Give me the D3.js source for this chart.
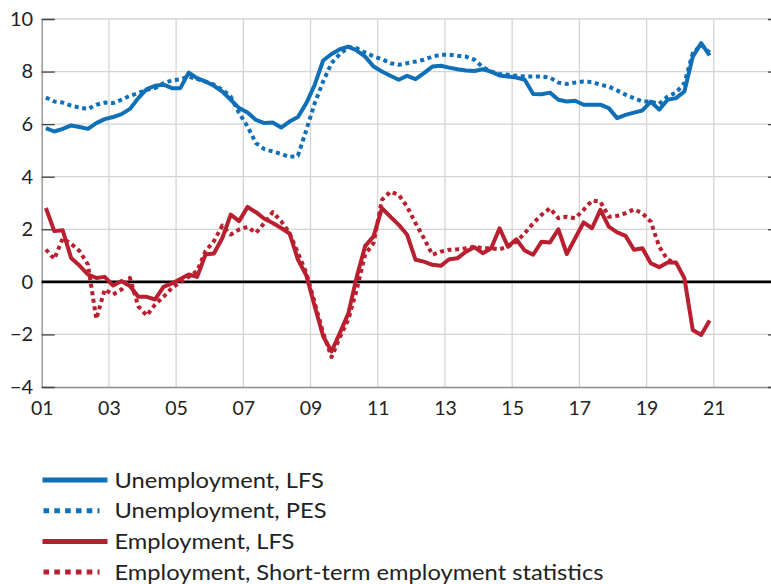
<!DOCTYPE html>
<html>
<head>
<meta charset="utf-8">
<script src="https://cdn.jsdelivr.net/npm/d3@7"></script>
<style>
  html, body { margin: 0; padding: 0; background: #ffffff; }
  svg { display: block; font-family: Lato, "Open Sans", sans-serif; }
</style>
</head>
<body>
<svg id="chart" width="771" height="584"></svg>
<script>
// Quarterly series, 2001Q1 – 2020Q4 (per cent / annual change, per cent)
const firstYear = 2001;
const unempLFS = [
  5.85, 5.72, 5.82, 5.95, 5.89, 5.82, 6.04, 6.19, 6.27, 6.38,
  6.58, 6.99, 7.33, 7.46, 7.50, 7.37, 7.37, 7.96, 7.75, 7.62,
  7.46, 7.24, 6.93, 6.61, 6.44, 6.16, 6.04, 6.06, 5.87, 6.10,
  6.27, 6.80, 7.50, 8.42, 8.67, 8.85, 8.95, 8.80, 8.57, 8.19,
  8.00, 7.84, 7.69, 7.84, 7.71, 7.94, 8.19, 8.22, 8.15, 8.09,
  8.04, 8.02, 8.09, 8.00, 7.85, 7.81, 7.77, 7.69, 7.15, 7.14,
  7.20, 6.93, 6.86, 6.89, 6.74, 6.74, 6.74, 6.61, 6.23, 6.35,
  6.44, 6.52, 6.86, 6.55, 6.93, 6.99, 7.24, 8.57, 9.08, 8.62
];
const unempPES = [
  7.01, 6.86, 6.82, 6.70, 6.63, 6.57, 6.74, 6.82, 6.80, 6.93,
  7.08, 7.18, 7.31, 7.37, 7.56, 7.66, 7.71, 7.81, 7.71, 7.62,
  7.50, 7.31, 7.05, 6.42, 5.91, 5.28, 5.05, 4.96, 4.87, 4.75,
  4.80, 5.78, 6.80, 7.62, 8.32, 8.67, 8.93, 8.89, 8.72, 8.58,
  8.47, 8.32, 8.26, 8.32, 8.38, 8.45, 8.57, 8.64, 8.64, 8.60,
  8.57, 8.45, 8.17, 8.00, 7.91, 7.88, 7.84, 7.81, 7.81, 7.81,
  7.77, 7.58, 7.53, 7.58, 7.62, 7.60, 7.50, 7.43, 7.28, 7.12,
  6.99, 6.86, 6.86, 6.77, 7.05, 7.20, 7.56, 8.70, 9.02, 8.72
];
const empLFS = [
  2.81, 1.93, 1.96, 0.91, 0.62, 0.28, 0.15, 0.19, -0.14, 0.03,
  -0.16, -0.57, -0.57, -0.67, -0.19, -0.06, 0.11, 0.28, 0.19, 1.04,
  1.08, 1.67, 2.56, 2.31, 2.85, 2.65, 2.40, 2.24, 2.05, 1.84,
  0.85, 0.24, -0.93, -2.07, -2.65, -1.94, -1.20, 0.19, 1.36, 1.73,
  2.80, 2.48, 2.17, 1.79, 0.84, 0.77, 0.65, 0.61, 0.86, 0.90,
  1.15, 1.32, 1.09, 1.28, 2.04, 1.34, 1.62, 1.19, 1.03, 1.53,
  1.50, 2.00, 1.06, 1.66, 2.26, 2.04, 2.74, 2.10, 1.88, 1.75,
  1.22, 1.28, 0.71, 0.56, 0.74, 0.74, 0.14, -1.83, -2.02, -1.47
];
const empSTES = [
  1.23, 0.87, 1.65, 1.45, 1.17, 0.66, -1.41, -0.29, -0.48, -0.29,
  0.15, -0.93, -1.28, -0.86, -0.57, -0.23, -0.01, 0.19, 0.41, 1.17,
  1.55, 2.14, 1.80, 1.99, 2.09, 1.86, 2.24, 2.65, 2.31, 1.86,
  1.10, 0.34, -0.80, -1.94, -2.86, -2.10, -1.43, -0.29, 1.04, 1.48,
  3.12, 3.43, 3.31, 2.86, 2.23, 1.66, 1.03, 1.15, 1.22, 1.24,
  1.28, 1.34, 1.28, 1.28, 1.24, 1.34, 1.53, 1.85, 2.23, 2.55,
  2.80, 2.42, 2.48, 2.42, 2.74, 3.09, 3.05, 2.48, 2.51, 2.61,
  2.76, 2.61, 2.29, 1.34, 0.84, 0.71
];
const yTicks = [-4, -2, 0, 2, 4, 6, 8, 10];
const xTickYears = [2001, 2003, 2005, 2007, 2009, 2011, 2013, 2015, 2017, 2019, 2021];
const xTickLabels = ["01", "03", "05", "07", "09", "11", "13", "15", "17", "19", "21"];

const seriesList = [
  { name: "Unemployment, LFS", values: unempLFS, color: "#0f70b7", dashed: false },
  { name: "Unemployment, PES", values: unempPES, color: "#0f70b7", dashed: true },
  { name: "Employment, LFS", values: empLFS, color: "#b91f2e", dashed: false },
  { name: "Employment, Short-term employment statistics", values: empSTES, color: "#b91f2e", dashed: true }
];

const svg = d3.select("#chart");
const plot = { left: 41.7, right: 781, top: 19, bottom: 387 };
const labelFont = "Lato, 'Open Sans', sans-serif";

// Quarter k sits in the middle of its quarter on a continuous year axis
const quarterTime = k => firstYear + (k + 0.5) / 4;

const x = d3.scaleLinear().domain([2001, 2023]).range([plot.left, plot.right]);
const y = d3.scaleLinear().domain([-4, 10]).range([plot.bottom, plot.top]);

const gridColor = "#d4d4d4";
const axisColor = "#8c8c8c";

// Gridlines
svg.append("g")
  .selectAll("line")
  .data(yTicks.filter(v => v !== 0 && v !== -4))
  .join("line")
  .attr("x1", plot.left).attr("x2", plot.right)
  .attr("y1", d => y(d)).attr("y2", d => y(d))
  .attr("stroke", gridColor).attr("stroke-width", 1.3);

svg.append("g")
  .selectAll("line")
  .data(xTickYears.slice(1).concat([2023]))
  .join("line")
  .attr("x1", d => x(d)).attr("x2", d => x(d))
  .attr("y1", plot.top).attr("y2", plot.bottom)
  .attr("stroke", gridColor).attr("stroke-width", 1.3);

// Bottom axis with two-digit year labels
const xAxis = d3.axisBottom(x)
  .tickValues(xTickYears)
  .tickSize(0)
  .tickPadding(14)
  .tickFormat((d, i) => xTickLabels[i]);
const gx = svg.append("g")
  .attr("transform", `translate(0,${plot.bottom})`)
  .call(xAxis);
gx.select(".domain").attr("stroke", axisColor).attr("stroke-width", 1.3);
gx.selectAll("text")
  .attr("fill", "#222").attr("font-size", 19.5)
  .attr("font-family", labelFont);

// Left axis, ticks pointing inward
const yAxis = d3.axisLeft(y)
  .tickValues(yTicks)
  .tickSize(-13)
  .tickPadding(8.5)
  .tickFormat(d3.format("d"));
const gy = svg.append("g")
  .attr("transform", `translate(${plot.left},0)`)
  .call(yAxis);
gy.select(".domain").attr("stroke", axisColor).attr("stroke-width", 1.3);
gy.selectAll(".tick line").attr("stroke", "#444").attr("stroke-width", 1.3);
gy.selectAll("text")
  .attr("fill", "#222").attr("font-size", 20)
  .attr("font-family", labelFont);

// Right axis ticks, also pointing inward
const gyr = svg.append("g")
  .attr("transform", `translate(${plot.right},0)`)
  .call(d3.axisRight(y).tickValues(yTicks).tickSize(-13).tickFormat(""));
gyr.select(".domain").attr("stroke", axisColor).attr("stroke-width", 1.3);
gyr.selectAll(".tick line").attr("stroke", "#444").attr("stroke-width", 1.3);

// Zero line
svg.append("line")
  .attr("x1", plot.left).attr("x2", plot.right)
  .attr("y1", y(0)).attr("y2", y(0))
  .attr("stroke", "#000").attr("stroke-width", 2.6);

// Series lines
const line = d3.line()
  .x((d, i) => x(quarterTime(i)))
  .y(d => y(d));

svg.append("g")
  .selectAll("path")
  .data(seriesList)
  .join("path")
  .attr("d", s => line(s.values))
  .attr("fill", "none")
  .attr("stroke", s => s.color)
  .attr("stroke-width", 4)
  .attr("stroke-linejoin", "round")
  .attr("stroke-dasharray", s => s.dashed ? "4,3.6" : null);

// Legend
const legend = svg.append("g").attr("transform", "translate(42.5,480)");
const rows = legend.selectAll("g")
  .data(seriesList)
  .join("g")
  .attr("transform", (d, i) => `translate(0,${i * 30.7})`);
rows.append("line")
  .attr("x1", d => d.dashed ? 1 : 0).attr("x2", d => d.dashed ? 57 : 65)
  .attr("y1", 0).attr("y2", 0)
  .attr("stroke", d => d.color)
  .attr("stroke-width", 5)
  .attr("stroke-dasharray", d => d.dashed ? "5.6,5.2" : null);
const legendText = rows.append("text")
  .attr("x", 72).attr("y", 7.5)
  .attr("font-size", 21)
  .attr("font-family", labelFont)
  .attr("fill", "#222")
  .text(d => d.name);

// Widen the legend labels so the longest one spans 489 px
const naturalWidths = legendText.nodes().map(n => n.getComputedTextLength());
const stretch = 489 / d3.max(naturalWidths);
legendText
  .attr("textLength", (d, i) => naturalWidths[i] * stretch)
  .attr("lengthAdjust", "spacingAndGlyphs");
</script>
</body>
</html>
